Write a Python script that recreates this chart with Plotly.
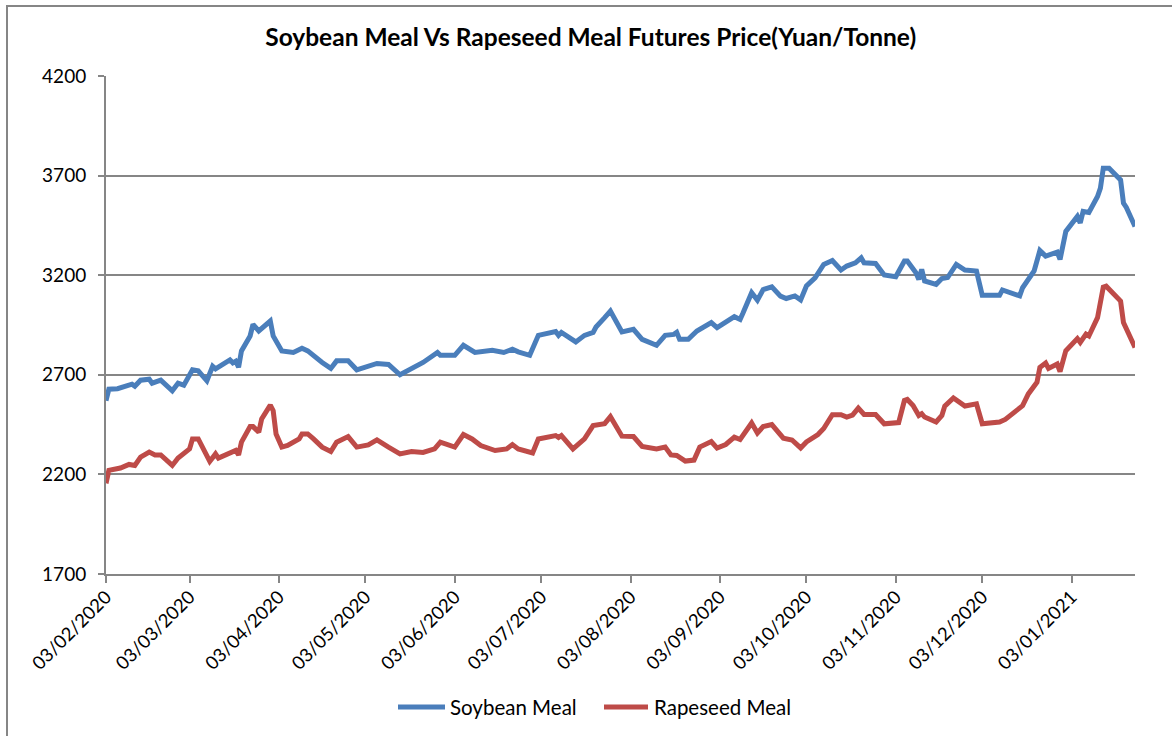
import plotly.graph_objects as go

soy_dates = [
    "2020-02-03", "2020-02-04", "2020-02-07", "2020-02-12", "2020-02-13", "2020-02-15", "2020-02-18",
    "2020-02-19", "2020-02-22", "2020-02-26", "2020-02-28", "2020-03-01", "2020-03-04", "2020-03-06",
    "2020-03-09", "2020-03-11", "2020-03-12", "2020-03-17", "2020-03-18", "2020-03-19", "2020-03-20",
    "2020-03-21", "2020-03-24", "2020-03-25", "2020-03-27", "2020-03-31", "2020-04-01", "2020-04-04",
    "2020-04-08", "2020-04-11", "2020-04-13", "2020-04-15", "2020-04-18", "2020-04-21", "2020-04-23",
    "2020-04-27", "2020-04-30", "2020-05-07", "2020-05-11", "2020-05-15", "2020-05-20", "2020-05-23",
    "2020-05-28", "2020-05-29", "2020-06-03", "2020-06-06", "2020-06-10", "2020-06-16", "2020-06-20",
    "2020-06-23", "2020-06-25", "2020-06-29", "2020-07-02", "2020-07-08", "2020-07-09", "2020-07-10",
    "2020-07-15", "2020-07-18", "2020-07-21", "2020-07-22", "2020-07-25", "2020-07-27", "2020-07-31",
    "2020-08-04", "2020-08-07", "2020-08-12", "2020-08-15", "2020-08-18", "2020-08-19", "2020-08-20",
    "2020-08-23", "2020-08-26", "2020-08-31", "2020-09-02", "2020-09-08", "2020-09-10", "2020-09-11",
    "2020-09-14", "2020-09-16", "2020-09-18", "2020-09-21", "2020-09-24", "2020-09-26", "2020-09-29",
    "2020-10-01", "2020-10-03", "2020-10-06", "2020-10-09", "2020-10-12", "2020-10-15", "2020-10-17",
    "2020-10-20", "2020-10-22", "2020-10-23", "2020-10-27", "2020-10-30", "2020-11-03", "2020-11-06",
    "2020-11-07", "2020-11-10", "2020-11-11", "2020-11-12", "2020-11-13", "2020-11-17", "2020-11-19",
    "2020-11-21", "2020-11-24", "2020-11-27", "2020-12-01", "2020-12-03", "2020-12-09", "2020-12-10",
    "2020-12-16", "2020-12-17", "2020-12-21", "2020-12-23", "2020-12-25", "2020-12-29", "2020-12-30",
    "2021-01-01", "2021-01-05", "2021-01-06", "2021-01-07", "2021-01-09", "2021-01-12", "2021-01-13",
    "2021-01-14", "2021-01-16", "2021-01-20", "2021-01-21", "2021-01-22", "2021-01-25",
]
soy_values = [
    2570, 2628, 2630, 2653, 2643, 2673, 2678,
    2658, 2673, 2620, 2658, 2648, 2725, 2720,
    2670, 2743, 2730, 2775, 2760, 2768, 2738,
    2820, 2895, 2953, 2920, 2970, 2895, 2820,
    2812, 2833, 2820, 2795, 2762, 2732, 2770,
    2770, 2725, 2757, 2752, 2700, 2742, 2762,
    2812, 2798, 2798, 2848, 2812, 2823, 2812,
    2828, 2815, 2798, 2898, 2917, 2898, 2913,
    2865, 2898, 2913, 2940, 2987, 3020, 2915,
    2928, 2878, 2848, 2898, 2903, 2913, 2878,
    2878, 2920, 2962, 2937, 2992, 2978, 3010,
    3112, 3075, 3128, 3142, 3095, 3083, 3096,
    3076, 3146, 3187, 3254, 3274, 3226, 3246,
    3262, 3287, 3262, 3259, 3201, 3192, 3271,
    3271, 3212, 3179, 3229, 3171, 3154, 3183,
    3188, 3254, 3226, 3221, 3099, 3099, 3126,
    3096, 3137, 3221, 3324, 3296, 3316, 3279,
    3420, 3495, 3462, 3520, 3515, 3595, 3637,
    3737, 3737, 3678, 3562, 3540, 3445,
]

rape_dates = [
    "2020-02-03", "2020-02-04", "2020-02-08", "2020-02-11", "2020-02-13", "2020-02-15", "2020-02-18",
    "2020-02-20", "2020-02-22", "2020-02-26", "2020-02-28", "2020-03-03", "2020-03-04", "2020-03-06",
    "2020-03-10", "2020-03-12", "2020-03-13", "2020-03-17", "2020-03-19", "2020-03-20", "2020-03-21",
    "2020-03-24", "2020-03-25", "2020-03-27", "2020-03-28", "2020-03-31", "2020-04-01", "2020-04-02",
    "2020-04-04", "2020-04-06", "2020-04-10", "2020-04-11", "2020-04-13", "2020-04-15", "2020-04-18",
    "2020-04-21", "2020-04-23", "2020-04-27", "2020-04-30", "2020-05-04", "2020-05-07", "2020-05-11",
    "2020-05-14", "2020-05-15", "2020-05-19", "2020-05-23", "2020-05-27", "2020-05-29", "2020-06-03",
    "2020-06-06", "2020-06-09", "2020-06-12", "2020-06-17", "2020-06-21", "2020-06-23", "2020-06-25",
    "2020-06-30", "2020-07-02", "2020-07-08", "2020-07-09", "2020-07-10", "2020-07-14", "2020-07-18",
    "2020-07-21", "2020-07-25", "2020-07-27", "2020-07-31", "2020-08-04", "2020-08-07", "2020-08-12",
    "2020-08-15", "2020-08-17", "2020-08-19", "2020-08-22", "2020-08-25", "2020-08-27", "2020-08-31",
    "2020-09-02", "2020-09-05", "2020-09-08", "2020-09-10", "2020-09-14", "2020-09-16", "2020-09-18",
    "2020-09-21", "2020-09-25", "2020-09-28", "2020-10-01", "2020-10-03", "2020-10-07", "2020-10-09",
    "2020-10-12", "2020-10-15", "2020-10-17", "2020-10-19", "2020-10-21", "2020-10-23", "2020-10-27",
    "2020-10-30", "2020-11-04", "2020-11-06", "2020-11-07", "2020-11-09", "2020-11-11", "2020-11-12",
    "2020-11-13", "2020-11-17", "2020-11-19", "2020-11-20", "2020-11-23", "2020-11-27", "2020-12-01",
    "2020-12-03", "2020-12-09", "2020-12-11", "2020-12-15", "2020-12-17", "2020-12-19", "2020-12-22",
    "2020-12-23", "2020-12-25", "2020-12-26", "2020-12-29", "2020-12-30", "2021-01-01", "2021-01-05",
    "2021-01-06", "2021-01-08", "2021-01-09", "2021-01-12", "2021-01-14", "2021-01-15", "2021-01-20",
    "2021-01-21", "2021-01-23", "2021-01-25",
]
rape_values = [
    2155, 2220, 2232, 2250, 2245, 2287, 2312,
    2298, 2298, 2245, 2282, 2328, 2378, 2378,
    2265, 2303, 2282, 2312, 2320, 2298, 2362,
    2440, 2440, 2412, 2478, 2548, 2520, 2403,
    2337, 2345, 2378, 2403, 2403, 2378, 2337,
    2315, 2362, 2390, 2337, 2348, 2373, 2337,
    2312, 2303, 2315, 2310, 2328, 2362, 2337,
    2400, 2378, 2345, 2320, 2328, 2350, 2328,
    2308, 2378, 2395, 2385, 2395, 2328, 2378,
    2445, 2455, 2490, 2392, 2390, 2340, 2328,
    2337, 2298, 2295, 2267, 2272, 2337, 2365,
    2332, 2350, 2387, 2375, 2458, 2408, 2440,
    2450, 2382, 2373, 2333, 2363, 2400, 2430,
    2500, 2500, 2488, 2498, 2533, 2501, 2501,
    2454, 2460, 2571, 2576, 2546, 2496, 2505,
    2488, 2463, 2496, 2543, 2584, 2543, 2554,
    2454, 2463, 2476, 2521, 2545, 2604, 2663,
    2737, 2759, 2732, 2754, 2716, 2821, 2882,
    2862, 2904, 2895, 2987, 3140, 3145, 3070,
    2962, 2895, 2837,
]

series_names = ["Soybean Meal", "Rapeseed Meal"]
series_colors = ["#4A7EBB", "#BE4B48"]
title_text = "Soybean Meal Vs Rapeseed Meal Futures Price(Yuan/Tonne)"
y_ticks = [1700, 2200, 2700, 3200, 3700, 4200]
x_range = ["2020-02-03", "2021-01-25"]

GRID = "#868686"
FONT = "Lato, 'Open Sans', sans-serif"

# plot-area geometry in pixels (for layout-only items: legend, border)
PL, PR, PT, PB = 106, 1135, 76, 574
def px(x):
    return (x - PL) / (PR - PL)
def py(y):
    return (PB - y) / (PB - PT)

fig = go.Figure()
for xs, ys, nm, col in [(soy_dates, soy_values, series_names[0], series_colors[0]),
                        (rape_dates, rape_values, series_names[1], series_colors[1])]:
    fig.add_trace(go.Scatter(x=xs, y=ys, mode="lines", name=nm, showlegend=False,
                             line=dict(color=col, width=5)))

fig.update_layout(
    width=1172, height=736,
    margin=dict(l=PL, r=1172 - PR, t=PT, b=736 - PB, autoexpand=False),
    paper_bgcolor="white", plot_bgcolor="white",
    font=dict(family=FONT, size=19, color="#000000"),
    title=dict(text="<b>" + title_text + "</b>", x=0.504, xanchor="center",
               y=1 - 37 / 736, yanchor="middle", font=dict(size=24.5, family=FONT)),
    showlegend=False,
    xaxis=dict(type="date", range=x_range, tick0="2020-02-03", dtick="M1",
               tickformat="%d/%m/%Y", tickangle=-45, showgrid=False,
               showline=True, linecolor=GRID, linewidth=2,
               ticks="outside", ticklen=7, tickcolor=GRID, tickwidth=2,
               ticklabelstandoff=-4, tickfont=dict(size=18.5)),
    yaxis=dict(range=[1700, 4200], tickvals=y_ticks, showgrid=True, gridcolor=GRID, gridwidth=2,
               showline=True, linecolor=GRID, linewidth=2, zeroline=False,
               ticks="outside", ticklen=6, tickcolor=GRID, tickwidth=2,
               ticklabelstandoff=8, tickfont=dict(size=19)),
)

# custom legend (Excel-style long line samples)
legend_y = 707
legend_items = [(398, 445, 448), (604, 648, 652)]
for (x0, x1, tx), nm, col in zip(legend_items, series_names, series_colors):
    fig.add_shape(type="line", xref="paper", yref="paper",
                  x0=px(x0), x1=px(x1), y0=py(legend_y), y1=py(legend_y),
                  line=dict(color=col, width=5))
    fig.add_annotation(xref="paper", yref="paper", x=px(tx), y=py(legend_y),
                       text=nm, showarrow=False, xanchor="left", yanchor="middle",
                       font=dict(size=20.5, family=FONT, color="#000000"))

# outer chart border (top and left edges visible in the reference)
fig.add_shape(type="rect", xref="paper", yref="paper",
              x0=px(7), x1=px(1185), y0=py(750), y1=py(6),
              line=dict(color=GRID, width=2), fillcolor="rgba(0,0,0,0)", layer="below")

fig.write_html("out.html")
